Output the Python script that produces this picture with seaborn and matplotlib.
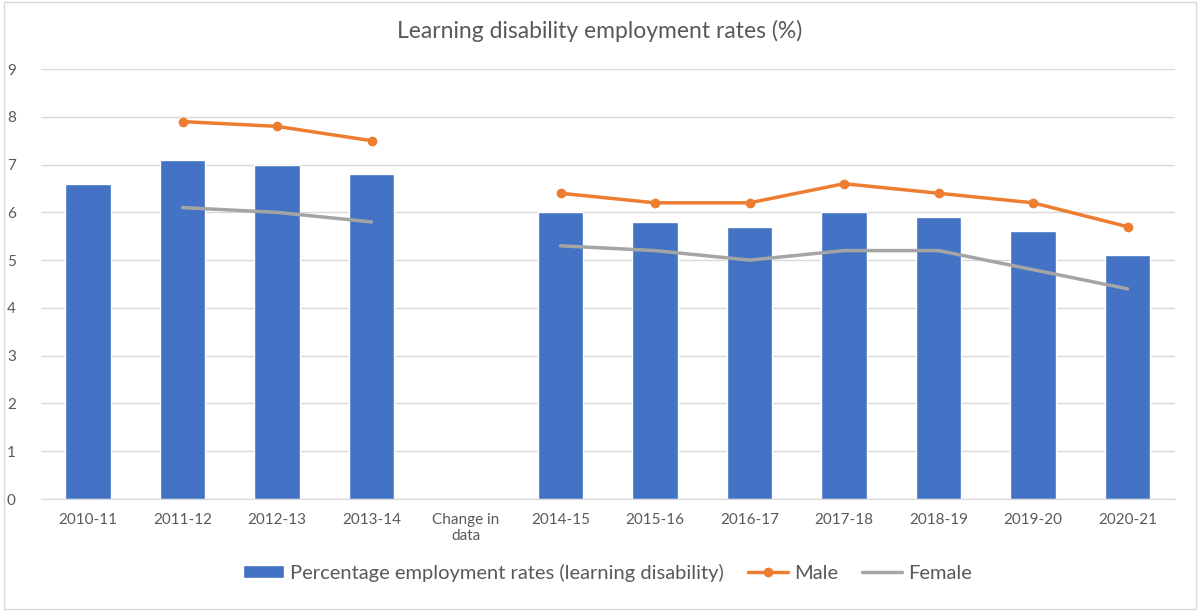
import numpy as np
import pandas as pd
import seaborn as sns
import matplotlib.pyplot as plt

# Values
years = ["2010-11", "2011-12", "2012-13", "2013-14", "Change in\ndata",
         "2014-15", "2015-16", "2016-17", "2017-18", "2018-19", "2019-20", "2020-21"]
overall = [6.6, 7.1, 7.0, 6.8, np.nan, 6.0, 5.8, 5.7, 6.0, 5.9, 5.6, 5.1]
male = [np.nan, 7.9, 7.8, 7.5, np.nan, 6.4, 6.2, 6.2, 6.6, 6.4, 6.2, 5.7]
female = [np.nan, 6.1, 6.0, 5.8, np.nan, 5.3, 5.2, 5.0, 5.2, 5.2, 4.8, 4.4]

df = pd.DataFrame({"Year": years, "Overall": overall, "Male": male, "Female": female})

sns.set_style("white")
plt.rcParams["font.family"] = ["Lato", "DejaVu Sans"]

fig = plt.figure(figsize=(12, 6.11), dpi=100)
ax = fig.add_axes([0.034, 0.1833, 0.945, 0.7037])

grey_text = "#595959"
sns.barplot(data=df, x="Year", y="Overall", color="#4472C4", width=0.48,
            saturation=1, ax=ax, label="Percentage employment rates (learning disability)")

pos = np.arange(len(years))
ax.plot(pos, df["Male"], color="#ED7D31", lw=2.5, marker="o", ms=6, label="Male")
ax.plot(pos, df["Female"], color="#A5A5A5", lw=2.5, label="Female")

ax.set_ylim(0, 9)
ax.set_yticks(range(0, 10))
ax.set_xlim(-0.5, len(years) - 0.5)
ax.grid(axis="y", color="#D9D9D9", lw=1)
ax.set_axisbelow(True)
for s in ["top", "right", "left"]:
    ax.spines[s].set_visible(False)
ax.spines["bottom"].set_color("#D9D9D9")
ax.tick_params(length=0, labelsize=11, colors=grey_text, pad=10)
ax.tick_params(axis="y", pad=18)
ax.set_xlabel("")
ax.set_ylabel("")

fig.suptitle("Learning disability employment rates (%)", y=0.968, fontsize=16.5, color=grey_text)

handles, labels = ax.get_legend_handles_labels()
order = [labels.index(l) for l in
         ["Percentage employment rates (learning disability)", "Male", "Female"]]
ax.legend([handles[i] for i in order], [labels[i] for i in order],
          loc="center", bbox_to_anchor=(0.5, -0.172), ncol=3, frameon=False,
          fontsize=14.5, labelcolor=grey_text, handlelength=2.0, handleheight=0.6,
          columnspacing=1.2, handletextpad=0.3)

# light border around the chart area
fig.patches.append(plt.Rectangle((0.003, 0.003), 0.994, 0.994, transform=fig.transFigure,
                                 fill=False, edgecolor="#D9D9D9", lw=1))

plt.savefig("out.png", dpi=100)
